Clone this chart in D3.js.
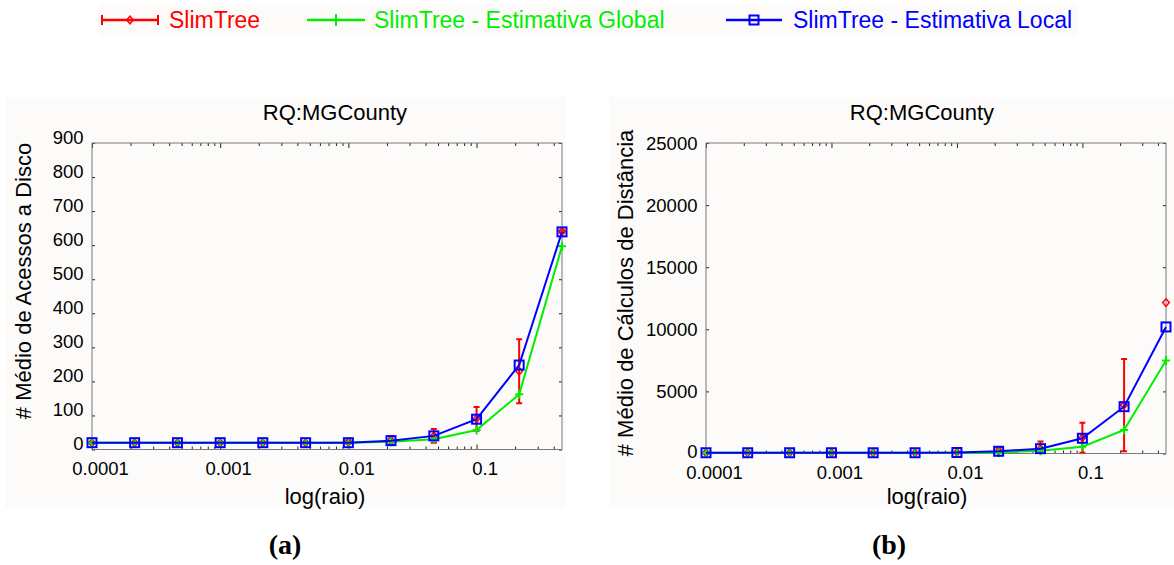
<!DOCTYPE html>
<html>
<head>
<meta charset="utf-8">
<script src="https://cdn.jsdelivr.net/npm/d3@7"></script>
<style>
  body { margin: 0; background: #ffffff; }
  svg { display: block; }
  text { font-family: "Liberation Sans", Arial, Helvetica, sans-serif; fill: #000; }
</style>
</head>
<body>
<svg id="fig" width="1174" height="565"></svg>
<script>
// ---- data -------------------------------------------------------------
const radii = [0.0001, 0.000215, 0.000464, 0.001, 0.00215, 0.00464,
               0.01, 0.0215, 0.0464, 0.1, 0.215, 0.464];

const seriesNames = ["SlimTree", "SlimTree - Estimativa Global", "SlimTree - Estimativa Local"];
const seriesColors = ["#ff0000", "#00ee00", "#0000ff"];

// (a) average number of disk accesses
const diskSlim      = [20, 20, 20, 20, 20, 20, 22, 27, 40, 90, 230, 640];
const diskSlimErr   = [1, 1, 1, 1, 1, 1, 5, 12, 20, 35, 94, 3];
const diskGlobal    = [20, 20, 20, 20, 20, 20, 20, 23, 30, 57, 162, 597];
const diskLocal     = [20, 20, 20, 20, 20, 20, 20, 26, 40, 89, 248, 639];

// (b) average number of distance computations
const distSlim      = [60, 60, 60, 60, 60, 60, 90, 200, 400, 1270, 3900, 12150];
const distSlimErr   = [0, 0, 0, 0, 0, 0, 50, 270, 560, 1210, 3710, 0];
const distGlobal    = [60, 60, 60, 60, 60, 60, 60, 70, 225, 550, 1895, 7480];
const distLocal     = [60, 60, 60, 60, 60, 60, 80, 180, 390, 1225, 3770, 10190];

const xTickValues = [0.0001, 0.001, 0.01, 0.1];
const xTickLabels = ["0.0001", "0.001", "0.01", "0.1"];
const diskTicks = [0, 100, 200, 300, 400, 500, 600, 700, 800, 900];
const distTicks = [0, 5000, 10000, 15000, 20000, 25000];

const chartTitle = "RQ:MGCounty";
const xTitle = "log(raio)";

// ---- layout -----------------------------------------------------------
const svg = d3.select("#fig");
const panelBg = "#fcfbf9";
const tickFont = 18.5;

const panels = [
  {
    id: "a", caption: "(a)", captionX: 285,
    bg: { x: 5, y: 97, w: 561, h: 411 },
    frame: { x0: 92, x1: 562, y0: 143, y1: 449.5 },
    titleX: 335, xTitleX: 325, xPad: 12.3,
    yTitle: "# Médio de Acessos a Disco", yTitleX: 31, yTitleY: 281,
    yMax: 900, yTicks: diskTicks, yLabelDy: d => "0.02em",
    slim: diskSlim, slimErr: diskSlimErr, global: diskGlobal, local: diskLocal
  },
  {
    id: "b", caption: "(b)", captionX: 889,
    bg: { x: 609, y: 97, w: 565, h: 411 },
    frame: { x0: 706, x1: 1166, y0: 143, y1: 453.5 },
    titleX: 922, xTitleX: 927, xPad: 12.8,
    yTitle: "# Médio de Cálculos de Distância", yTitleX: 633, yTitleY: 293,
    // the zero label sits a little higher so it clears the first x label
    yMax: 25000, yTicks: distTicks, yLabelDy: d => (d === 0 ? "0.2em" : "0.34em"),
    slim: distSlim, slimErr: distSlimErr, global: distGlobal, local: distLocal
  }
];

// ---- marker shapes ----------------------------------------------------
function diamond(g, cx, cy, color) {
  g.append("path")
    .attr("d", `M${cx},${cy - 3.8}L${cx + 3.3},${cy}L${cx},${cy + 3.8}L${cx - 3.3},${cy}Z`)
    .attr("fill", "none").attr("stroke", color).attr("stroke-width", 1.5);
}
function plus(g, cx, cy, color) {
  g.append("path")
    .attr("d", `M${cx - 4},${cy}H${cx + 4}M${cx},${cy - 4.5}V${cy + 4.5}`)
    .attr("fill", "none").attr("stroke", color).attr("stroke-width", 2);
}
function square(g, cx, cy, color) {
  g.append("rect")
    .attr("x", cx - 4.5).attr("y", cy - 4.5).attr("width", 9).attr("height", 9)
    .attr("fill", "none").attr("stroke", color).attr("stroke-width", 2);
}

// ---- legend -----------------------------------------------------------
const legend = svg.append("g");
legend.append("rect").attr("x", 98).attr("y", 4).attr("width", 980).attr("height", 32)
  .attr("fill", panelBg);
const legendItems = [
  { x0: 102, x1: 158, tx: 169 },
  { x0: 307, x1: 365, tx: 374 },
  { x0: 726, x1: 782, tx: 793 }
];
legendItems.forEach((it, i) => {
  const cy = 20, c = seriesColors[i], cx = (it.x0 + it.x1) / 2;
  legend.append("line").attr("x1", it.x0).attr("x2", it.x1).attr("y1", cy).attr("y2", cy)
    .attr("stroke", c).attr("stroke-width", 2.5);
  if (i === 0) {
    [it.x0, it.x1].forEach(ex => legend.append("line")
      .attr("x1", ex).attr("x2", ex).attr("y1", cy - 5).attr("y2", cy + 5)
      .attr("stroke", c).attr("stroke-width", 2));
    diamond(legend, cx, cy, c);
  } else if (i === 1) {
    legend.append("line").attr("x1", cx).attr("x2", cx).attr("y1", cy - 6).attr("y2", cy + 6)
      .attr("stroke", c).attr("stroke-width", 2);
  } else {
    square(legend, cx, cy, c);
  }
  legend.append("text").attr("x", it.tx).attr("y", 28)
    .attr("font-size", 23).style("fill", c).text(seriesNames[i]);
});

// ---- panels -----------------------------------------------------------
panels.forEach(p => {
  const f = p.frame;
  const g = svg.append("g");

  g.append("rect").attr("x", p.bg.x).attr("y", p.bg.y)
    .attr("width", p.bg.w).attr("height", p.bg.h).attr("fill", panelBg);

  const x = d3.scaleLog().domain([radii[0], radii[radii.length - 1]]).range([f.x0, f.x1]);
  const y = d3.scaleLinear().domain([0, p.yMax]).range([f.y1, f.y0]);

  // minor ticks of the log axis
  const minor = [];
  xTickValues.forEach(d => { for (let m = 2; m <= 9; m++) { const v = d * m; if (v <= x.domain()[1]) minor.push(v); } });

  // bottom axis (ticks point into the plot)
  const bottom = g.append("g").attr("transform", `translate(0,${f.y1})`)
    .call(d3.axisBottom(x).tickValues(xTickValues)
      .tickFormat((d, i) => xTickLabels[i]).tickSize(-5).tickPadding(p.xPad));
  bottom.selectAll("text").attr("font-size", tickFont).attr("dx", 8)
    .style("font-family", '"Liberation Sans", Arial, sans-serif');
  g.append("g").attr("transform", `translate(0,${f.y1})`)
    .call(d3.axisBottom(x).tickValues(minor).tickFormat("").tickSize(-3));
  // top axis, ticks only
  g.append("g").attr("transform", `translate(0,${f.y0})`)
    .call(d3.axisTop(x).tickValues(xTickValues).tickFormat("").tickSize(-5));
  g.append("g").attr("transform", `translate(0,${f.y0})`)
    .call(d3.axisTop(x).tickValues(minor).tickFormat("").tickSize(-3));

  // left axis with labels, right axis ticks only
  const left = g.append("g").attr("transform", `translate(${f.x0},0)`)
    .call(d3.axisLeft(y).tickValues(p.yTicks).tickFormat(d3.format("d")).tickSize(-3).tickPadding(8.5));
  left.selectAll("text").attr("font-size", tickFont).attr("dy", p.yLabelDy)
    .style("font-family", '"Liberation Sans", Arial, sans-serif');
  g.append("g").attr("transform", `translate(${f.x1},0)`)
    .call(d3.axisRight(y).tickValues(p.yTicks).tickFormat("").tickSize(-3));

  g.selectAll(".domain").remove();
  g.selectAll(".tick line").attr("stroke", "#222");

  // frame
  g.append("rect").attr("x", f.x0).attr("y", f.y0)
    .attr("width", f.x1 - f.x0).attr("height", f.y1 - f.y0)
    .attr("fill", "none").attr("stroke", "#7a7a7a").attr("stroke-width", 1);

  // titles
  g.append("text").attr("x", p.titleX).attr("y", 120).attr("text-anchor", "middle")
    .attr("font-size", 22).text(chartTitle);
  g.append("text").attr("x", p.xTitleX).attr("y", 504).attr("text-anchor", "middle")
    .attr("font-size", 22).text(xTitle);
  g.append("text").attr("transform", `translate(${p.yTitleX},${p.yTitleY}) rotate(-90)`)
    .attr("text-anchor", "middle").attr("font-size", 22).text(p.yTitle);

  // caption below the panel
  svg.append("text").attr("x", p.captionX).attr("y", 554).attr("text-anchor", "middle")
    .attr("font-size", 28).attr("font-weight", "bold")
    .style("font-family", '"Liberation Serif", "Times New Roman", serif')
    .text(p.caption);

  // series
  const clipId = "clip-" + p.id;
  g.append("clipPath").attr("id", clipId).append("rect")
    .attr("x", f.x0 - 10).attr("y", f.y0).attr("width", f.x1 - f.x0 + 20).attr("height", f.y1 - f.y0);

  const line = d3.line().x((d, i) => x(radii[i])).y(d => y(d));

  // SlimTree: mean with error bars
  const eb = g.append("g").attr("clip-path", `url(#${clipId})`);
  p.slim.forEach((v, i) => {
    const e = p.slimErr[i];
    if (e <= 0) return;
    const cx = x(radii[i]);
    eb.append("line").attr("x1", cx).attr("x2", cx).attr("y1", y(v - e)).attr("y2", y(v + e))
      .attr("stroke", seriesColors[0]).attr("stroke-width", 2);
    [v - e, v + e].forEach(t => eb.append("line")
      .attr("x1", cx - 3).attr("x2", cx + 3).attr("y1", y(t)).attr("y2", y(t))
      .attr("stroke", seriesColors[0]).attr("stroke-width", 2));
  });
  p.slim.forEach((v, i) => diamond(g, x(radii[i]), y(v), seriesColors[0]));

  // global estimate
  g.append("path").datum(p.global).attr("d", line)
    .attr("fill", "none").attr("stroke", seriesColors[1]).attr("stroke-width", 2);
  p.global.forEach((v, i) => plus(g, x(radii[i]), y(v), seriesColors[1]));

  // local estimate
  g.append("path").datum(p.local).attr("d", line)
    .attr("fill", "none").attr("stroke", seriesColors[2]).attr("stroke-width", 2);
  p.local.forEach((v, i) => square(g, x(radii[i]), y(v), seriesColors[2]));
});
</script>
</body>
</html>
